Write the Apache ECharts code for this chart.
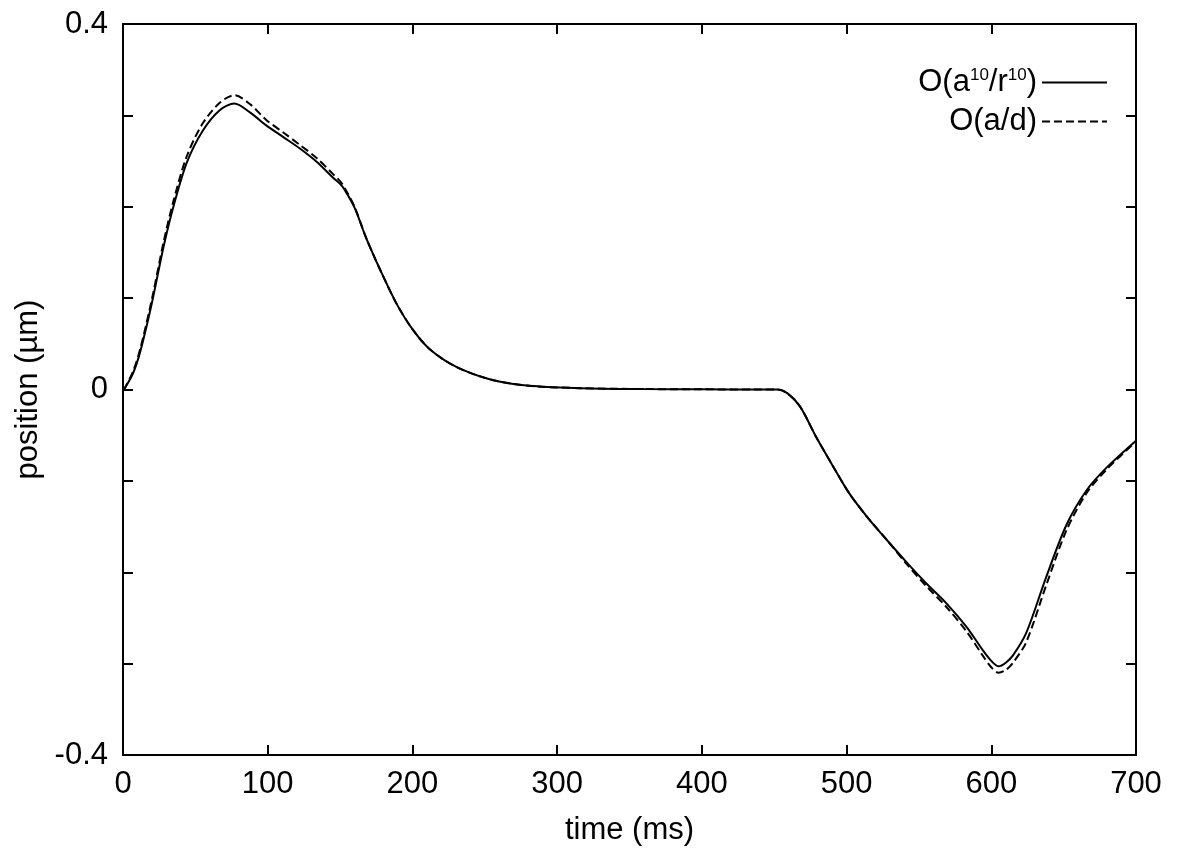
<!DOCTYPE html>
<html>
<head>
<meta charset="utf-8">
<script src="https://cdn.jsdelivr.net/npm/echarts@6/dist/echarts.min.js"></script>
<style>
  html, body { margin: 0; padding: 0; background: #fff; }
  #chart { width: 1179px; height: 850px; }
</style>
</head>
<body>
<div id="chart"></div>
<script>
// time (ms) samples and positions (um)
var timeMs = [0, 1.4, 7, 12, 20, 28, 35, 44, 55, 67, 77, 88, 99, 111, 122, 134, 145, 150, 153, 160,
  168, 178, 189, 200, 212, 230, 254, 281, 316, 360, 400, 440, 452, 459, 468, 479, 491, 502, 514, 528,
  542, 555, 569, 583, 594, 600, 605, 610, 615, 624, 638, 652, 666, 680, 700];

var fullModel = [0, 0.002, 0.018, 0.042, 0.095, 0.156, 0.201, 0.248, 0.283, 0.306, 0.313, 0.303, 0.289, 0.276, 0.264, 0.249, 0.232, 0.225, 0.219, 0.199,
  0.166, 0.130, 0.094, 0.066, 0.044, 0.025, 0.011, 0.004, 0.0015, 0.0005, 0.0002, 0, 0, -0.004, -0.019, -0.052, -0.085, -0.114, -0.139, -0.165,
  -0.190, -0.212, -0.234, -0.260, -0.285, -0.297, -0.303, -0.299, -0.291, -0.267, -0.205, -0.148, -0.110, -0.085, -0.056];

var pointModel = [0, 0.002, 0.020, 0.045, 0.099, 0.161, 0.207, 0.255, 0.291, 0.314, 0.322, 0.312, 0.295, 0.281, 0.268, 0.253, 0.236, 0.228, 0.221, 0.200,
  0.166, 0.130, 0.094, 0.066, 0.044, 0.025, 0.011, 0.004, 0.0015, 0.0005, 0.0002, 0, 0, -0.004, -0.019, -0.052, -0.085, -0.114, -0.139, -0.165,
  -0.192, -0.215, -0.238, -0.265, -0.291, -0.304, -0.310, -0.307, -0.299, -0.277, -0.214, -0.154, -0.113, -0.087, -0.057];

var yLabels = [0.4, 0, -0.4];

function pairs(ys) {
  return timeMs.map(function (t, i) { return [t, ys[i]]; });
}

var font = 'Liberation Sans';
var fs = 31;

function axisLine() {
  return { show: true, onZero: false, lineStyle: { color: '#000', width: 2 } };
}
function ticks() {
  return { show: true, inside: true, length: 10, lineStyle: { color: '#000', width: 2 } };
}

var chart = echarts.init(document.getElementById('chart'));

chart.setOption({
  animation: false,
  backgroundColor: '#fff',
  grid: { left: 123, right: 43, top: 24, bottom: 95, outerBoundsMode: 'none', containLabel: false },
  legend: {
    orient: 'vertical',
    right: 66,
    top: 62,
    align: 'right',
    itemWidth: 65,
    itemHeight: 30,
    itemGap: 8,
    itemStyle: { opacity: 0 },
    textStyle: {
      fontFamily: font, fontSize: fs, color: '#000',
      rich: {
        sup: { fontFamily: font, fontSize: 17, color: '#000', padding: [0, 0, 14, 0] }
      }
    },
    formatter: function (name) {
      if (name === 'full') return 'O(a{sup|10}/r{sup|10})';
      return 'O(a/d)';
    },
    data: ['full', 'point']
  },
  xAxis: [{
    type: 'value', min: 0, max: 700, interval: 100,
    name: 'time (ms)', nameLocation: 'middle', nameGap: 60,
    nameTextStyle: { fontFamily: font, fontSize: fs, color: '#000' },
    axisLine: axisLine(), axisTick: ticks(),
    axisLabel: { fontFamily: font, fontSize: fs, color: '#000', margin: 14 },
    splitLine: { show: false }
  }, {
    type: 'value', min: 0, max: 700, interval: 100, position: 'top',
    axisLine: axisLine(), axisTick: ticks(), axisLabel: { show: false }, splitLine: { show: false }
  }],
  yAxis: [{
    type: 'value', min: -0.4, max: 0.4, interval: 0.1,
    name: 'position (\u00b5m)', nameLocation: 'middle', nameGap: 78,
    nameTextStyle: { fontFamily: font, fontSize: fs, color: '#000' },
    axisLine: axisLine(), axisTick: ticks(),
    axisLabel: {
      fontFamily: font, fontSize: fs, color: '#000', margin: 15,
      formatter: function (v) {
        for (var i = 0; i < yLabels.length; i++) {
          if (Math.abs(v - yLabels[i]) < 1e-9) return String(yLabels[i]);
        }
        return '';
      }
    },
    splitLine: { show: false }
  }, {
    type: 'value', min: -0.4, max: 0.4, interval: 0.1, position: 'right',
    axisLine: axisLine(), axisTick: ticks(), axisLabel: { show: false }, splitLine: { show: false }
  }],
  series: [{
    name: 'full', type: 'line', data: pairs(fullModel),
    symbol: 'none', smooth: 0.3, z: 3,
    lineStyle: { color: '#000', width: 2 }, itemStyle: { color: '#000' }
  }, {
    name: 'point', type: 'line', data: pairs(pointModel),
    symbol: 'none', smooth: 0.3, z: 2,
    lineStyle: { color: '#000', width: 2, type: [8, 4] }, itemStyle: { color: '#000' }
  }]
});
</script>
</body>
</html>
